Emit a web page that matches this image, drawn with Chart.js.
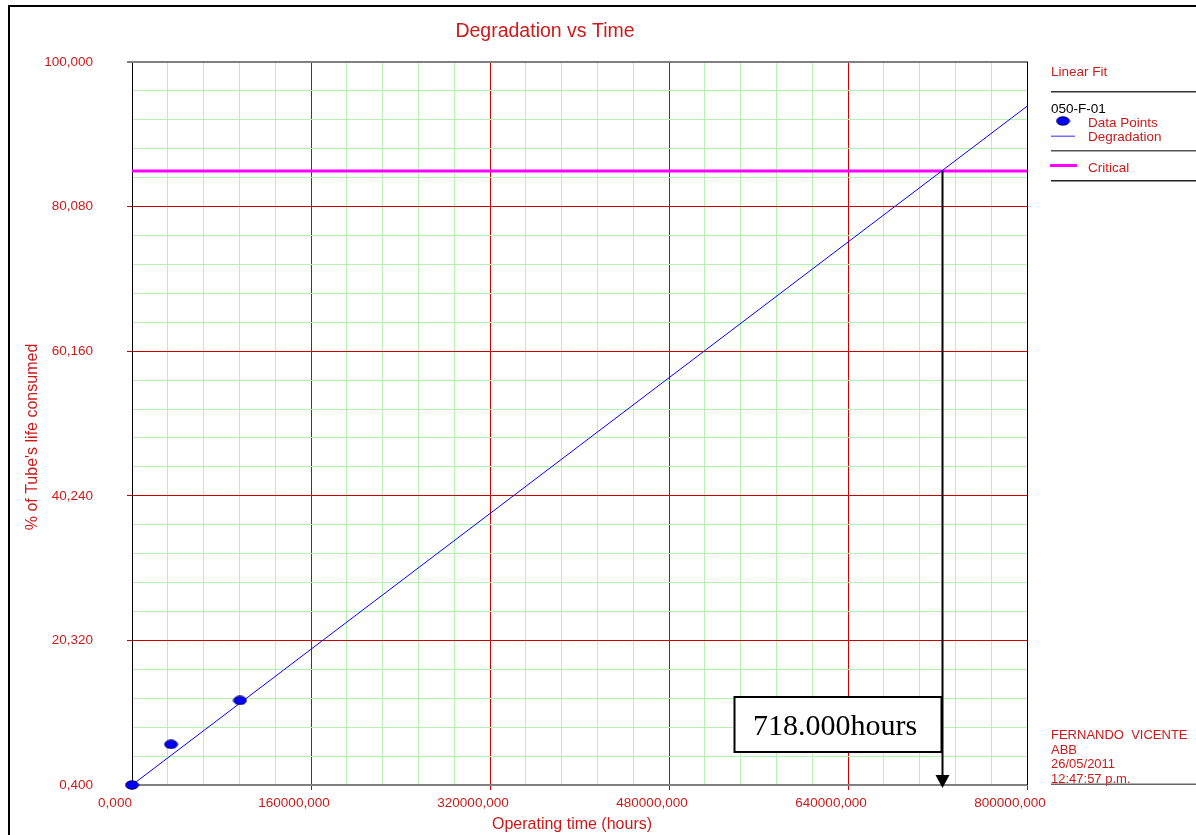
<!DOCTYPE html>
<html>
<head>
<meta charset="utf-8">
<title>Degradation vs Time</title>
<script src="https://cdn.jsdelivr.net/npm/chart.js@4.4.1/dist/chart.umd.min.js"></script>
<style>
  body { margin: 0; background: #fff; }
  #wrap { width: 1196px; height: 835px; }
</style>
</head>
<body>
<div id="wrap"><canvas id="chart" width="1196" height="835"></canvas></div>
<script>
// data (time in hours, % of life consumed)
const pointTimes = [0, 34900, 96500];
const pointValues = [0.4, 6.0, 12.05];
const fitTimes = [0, 800000];
const fitValues = [0.4, 93.9];
const criticalTimes = [0, 800000];
const criticalValues = [85, 85];

const xMajorTicks = [0, 160000, 320000, 480000, 640000, 800000];
const yMajorTicks = [0.4, 20.32, 40.24, 60.16, 80.08, 100];
const minorDivisions = 5;

const chartTitle = 'Degradation vs Time';
const xTitle = 'Operating time (hours)';
const yTitle = "% of Tube's life consumed";
const legendHeader = 'Linear Fit';
const legendGroup = '050-F-01';
const footerLines = ['FERNANDO  VICENTE', 'ABB', '26/05/2011', '12:47:57 p.m.'];
const crossingLabel = '718.000hours';

const red = 'rgb(204, 0, 0)';
const textRed = '#cc1a1a';
const minorGreen = 'rgb(184, 240, 180)';

Chart.defaults.font.family = "'Liberation Sans', Arial, sans-serif";
Chart.defaults.font.size = 13.5;

function toXY(xs, ys) {
  return xs.map((v, i) => ({ x: v, y: ys[i] }));
}

function fmt(v) {
  return v.toFixed(3).replace('.', ',');
}

// majors plus 4 minor lines in between
function withMinorTicks(majors) {
  return function(scale) {
    const ticks = [];
    for (let i = 0; i < majors.length; i++) {
      ticks.push({ value: majors[i] });
      if (i < majors.length - 1) {
        const step = (majors[i + 1] - majors[i]) / minorDivisions;
        for (let k = 1; k < minorDivisions; k++) {
          ticks.push({ value: majors[i] + k * step });
        }
      }
    }
    scale.ticks = ticks;
  };
}

const isMajor = i => i % minorDivisions === 0;

// blue ellipse used for the data points
const dot = document.createElement('canvas');
dot.width = 15;
dot.height = 10;
(function() {
  const c = dot.getContext('2d');
  c.beginPath();
  c.ellipse(7.5, 5, 6.5, 4.2, 0, 0, Math.PI * 2);
  c.fillStyle = '#0000ff';
  c.fill();
  c.lineWidth = 1;
  c.strokeStyle = '#000050';
  c.stroke();
})();

const gridOpts = {
  color: c => isMajor(c.index) ? red : minorGreen,
  tickColor: c => isMajor(c.index) ? red : 'rgba(0,0,0,0)',
  tickLength: 5,
  lineWidth: 1,
  drawTicks: true
};

const framePlugin = {
  id: 'frame',
  afterDraw(chart) {
    const { ctx, chartArea: a, scales } = chart;
    const x = scales.x, y = scales.y;
    ctx.save();

    // outer frame
    ctx.fillStyle = '#000';
    ctx.fillRect(8, 5, 1188, 2);
    ctx.fillRect(8, 5, 2, 830);

    // top and right plot borders
    ctx.fillStyle = '#808080';
    ctx.fillRect(127, a.top - 1, a.right - 127 + 1, 2);
    ctx.fillStyle = '#000';
    ctx.fillRect(a.right, a.top, 1, a.bottom - a.top);

    // titles
    ctx.fillStyle = textRed;
    ctx.font = "19.5px 'Liberation Sans'";
    ctx.textAlign = 'center';
    ctx.textBaseline = 'alphabetic';
    ctx.fillText(chartTitle, 545, 37);
    ctx.font = "16px 'Liberation Sans'";
    ctx.fillText(xTitle, 572, 829);
    ctx.save();
    ctx.translate(37, 437);
    ctx.rotate(-Math.PI / 2);
    ctx.fillText(yTitle, 0, 0);
    ctx.restore();

    // legend
    ctx.textAlign = 'left';
    ctx.font = "13.5px 'Liberation Sans'";
    ctx.fillText(legendHeader, 1051, 76);
    ctx.fillStyle = '#000';
    ctx.fillText(legendGroup, 1051, 113);
    ctx.fillStyle = textRed;
    ctx.fillText(chart.data.datasets[0].label, 1088, 127);
    ctx.fillText(chart.data.datasets[1].label, 1088, 141);
    ctx.fillText(chart.data.datasets[2].label, 1088, 172);
    ctx.drawImage(dot, 1063 - 7.5, 121 - 5);
    ctx.fillStyle = '#7070ff';
    ctx.fillRect(1051, 135.5, 24, 1.5);
    ctx.fillStyle = '#ff00ff';
    ctx.fillRect(1050, 164, 27, 3);
    ctx.fillStyle = '#333';
    ctx.fillRect(1051, 91, 145, 1.5);
    ctx.fillStyle = '#555';
    ctx.fillRect(1051, 150, 145, 1.5);
    ctx.fillStyle = '#222';
    ctx.fillRect(1051, 180, 145, 1.5);

    // footer
    ctx.fillStyle = textRed;
    ctx.font = "13px 'Liberation Sans'";
    const footY = [739, 753.5, 768, 782.5];
    footerLines.forEach((t, i) => ctx.fillText(t, 1051, footY[i]));
    ctx.fillStyle = '#666';
    ctx.fillRect(1051, 783.5, 145, 1.5);

    // where the fit crosses the critical level
    const slope = (fitValues[1] - fitValues[0]) / (fitTimes[1] - fitTimes[0]);
    const tCross = fitTimes[0] + (criticalValues[0] - fitValues[0]) / slope;
    const px = Math.round(x.getPixelForValue(tCross)) + 0.5;
    const py = y.getPixelForValue(criticalValues[0]);
    ctx.strokeStyle = '#000';
    ctx.lineWidth = 2;
    ctx.beginPath();
    ctx.moveTo(px, py);
    ctx.lineTo(px, a.bottom - 8);
    ctx.stroke();
    ctx.fillStyle = '#000';
    ctx.beginPath();
    ctx.moveTo(px - 7, a.bottom - 10);
    ctx.lineTo(px + 7, a.bottom - 10);
    ctx.lineTo(px, a.bottom + 3);
    ctx.closePath();
    ctx.fill();

    // label box
    const bx = px - 208, by = a.bottom - 88, bw = 207, bh = 55;
    ctx.fillStyle = '#fff';
    ctx.fillRect(bx, by, bw, bh);
    ctx.strokeRect(bx, by, bw, bh);
    ctx.fillStyle = '#000';
    ctx.font = "30px 'Liberation Serif'";
    ctx.textAlign = 'center';
    ctx.fillText(crossingLabel, bx + bw / 2 - 3, by + 38);

    ctx.restore();
  }
};

new Chart(document.getElementById('chart'), {
  type: 'scatter',
  data: {
    datasets: [
      {
        label: 'Data Points',
        data: toXY(pointTimes, pointValues),
        pointStyle: dot,
        pointRadius: 6,
        clip: false
      },
      {
        label: 'Degradation',
        data: toXY(fitTimes, fitValues),
        showLine: true,
        borderColor: '#0000ff',
        borderWidth: 1,
        pointRadius: 0
      },
      {
        label: 'Critical',
        data: toXY(criticalTimes, criticalValues),
        showLine: true,
        borderColor: '#ff00ff',
        borderWidth: 3,
        pointRadius: 0
      }
    ]
  },
  options: {
    responsive: false,
    animation: false,
    layout: { padding: { top: 62, right: 169, left: 0, bottom: 0 } },
    plugins: {
      legend: { display: false },
      tooltip: { enabled: false },
      title: { display: false }
    },
    scales: {
      x: {
        type: 'linear',
        min: 0,
        max: 800000,
        afterBuildTicks: withMinorTicks(xMajorTicks),
        afterFit(s) { s.height = 50; },
        grid: gridOpts,
        border: { color: '#808080', width: 2 },
        ticks: {
          autoSkip: false,
          maxRotation: 0,
          minRotation: 0,
          padding: 5,
          labelOffset: -17,
          color: textRed,
          callback: (v, i) => isMajor(i) ? fmt(v) : ''
        }
      },
      y: {
        type: 'linear',
        min: 0.4,
        max: 100,
        afterBuildTicks: withMinorTicks(yMajorTicks),
        afterFit(s) { s.width = 132; },
        grid: gridOpts,
        border: { color: '#000', width: 1 },
        ticks: {
          autoSkip: false,
          padding: 34,
          color: textRed,
          callback: (v, i) => isMajor(i) ? fmt(v) : ''
        }
      }
    }
  },
  plugins: [framePlugin]
});
</script>
</body>
</html>
